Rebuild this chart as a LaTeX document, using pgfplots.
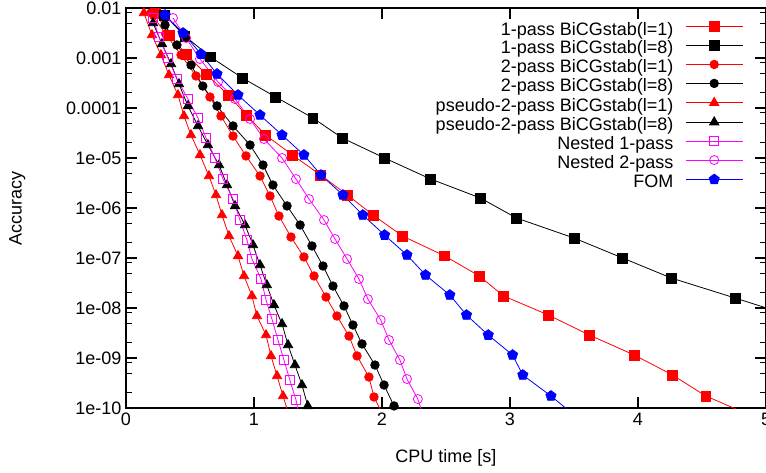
\documentclass[border=0pt]{standalone}
\usepackage{fontspec}
\setmainfont{Liberation Sans}
\usepackage{pgfplots}
\pgfplotsset{compat=1.18}
\usetikzlibrary{plotmarks}
\definecolor{gred}{RGB}{255,0,0}
\definecolor{gmag}{RGB}{255,0,255}
\definecolor{gblue}{RGB}{0,0,255}
\begin{document}
\begin{tikzpicture}
\begin{axis}[
    name=ax,
    scale only axis,
    width=480pt, height=300pt,
    xmin=0, xmax=5,
    ymode=log, ymin=1e-10, ymax=1e-2,
    xtick={0,1,2,3,4,5},
    ytick={1e-10,1e-9,1e-8,1e-7,1e-6,1e-5,1e-4,1e-3,1e-2},
    yticklabels={1e-10,1e-09,1e-08,1e-07,1e-06,1e-05,0.0001,0.001,0.01},
    minor ytick={2e-10,5e-10,8e-10,2e-9,5e-9,8e-9,2e-8,5e-8,8e-8,2e-7,5e-7,8e-7,
                 2e-6,5e-6,8e-6,2e-5,5e-5,8e-5,2e-4,5e-4,8e-4,2e-3,5e-3,8e-3},
    minor xtick={},
    tick align=inside,
    major tick length=8pt,
    minor tick length=4.5pt,
    every tick/.style={black, line width=0.8pt},
    axis line style={line width=1.3pt},
    font=\fontsize{13.5}{15}\selectfont,
    /pgf/number format/assume math mode=true,
    xlabel={CPU time [s]},
    ylabel={Accuracy},
    xlabel style={at={(axis description cs:0.5,-0.125)}, anchor=center},
    ylabel style={at={(axis description cs:-0.17,0.5)}, anchor=center, rotate=0},
    legend cell align=right,
    legend plot pos=right,
    legend style={at={(1,1)}, anchor=north east, xshift=-17pt, yshift=-10pt,
      draw=none, fill=none, inner sep=0pt, row sep=1.2pt, column sep=9pt,
      nodes={inner sep=0pt, text height=10pt, text depth=3pt},
      font=\fontsize{13.5}{15}\selectfont},
    legend image code/.code={
      \draw[mark repeat=2,mark phase=2,#1] plot coordinates {(0cm,0.1cm) (0.75cm,0.1cm) (1.5cm,0.1cm)};},
    every axis plot/.append style={line width=0.6pt},
    ]
\addplot[gred, mark=square*, mark size=3.7pt] coordinates {
(0.23,7.94e-3) (0.34,2.88e-3) (0.47,1.20e-3) (0.625,4.79e-4) (0.80,1.82e-4)
(0.94,7.24e-5) (1.09,2.88e-5) (1.30,1.15e-5) (1.52,4.57e-6) (1.73,1.82e-6)
(1.93,7.24e-7) (2.16,2.75e-7) (2.49,1.10e-7) (2.76,4.37e-8) (2.95,1.74e-8)
(3.30,7.24e-9) (3.62,2.88e-9) (3.97,1.15e-9) (4.27,4.57e-10) (4.53,1.74e-10)
(4.89,6.92e-11)};
\addlegendentry{1-pass BiCGstab(l=1)}
\addplot[black, mark=square*, mark size=3.7pt] coordinates {
(0.30,7.24e-3) (0.46,2.75e-3) (0.66,1.05e-3) (0.91,3.98e-4) (1.17,1.66e-4)
(1.46,6.31e-5) (1.69,2.51e-5) (2.02,1.00e-5) (2.38,3.80e-6) (2.77,1.58e-6)
(3.05,6.31e-7) (3.50,2.51e-7) (3.88,1.00e-7) (4.26,3.98e-8) (4.76,1.58e-8)
(5.25,6.31e-9)};
\addlegendentry{1-pass BiCGstab(l=8)}
\addplot[gred, mark=*, mark size=3.2pt] coordinates {
(0.195,7.94e-3) (0.31,3.02e-3) (0.43,1.15e-3) (0.547,4.37e-4) (0.656,1.66e-4)
(0.742,6.92e-5) (0.836,2.75e-5) (0.9375,1.10e-5) (1.047,4.37e-6) (1.125,1.74e-6)
(1.195,6.92e-7) (1.289,2.63e-7) (1.39,1.05e-7) (1.469,4.37e-8) (1.5625,1.66e-8)
(1.648,6.92e-9) (1.742,2.75e-9) (1.805,1.10e-9) (1.898,4.17e-10) (1.9375,1.66e-10)
(2.016,6.61e-11)};
\addlegendentry{2-pass BiCGstab(l=1)}
\addplot[black, mark=*, mark size=3.2pt] coordinates {
(0.22,1.15e-2) (0.305,4.57e-3) (0.398,1.82e-3) (0.508,7.24e-4) (0.60,2.75e-4)
(0.711,1.10e-4) (0.836,4.37e-5) (0.969,1.82e-5) (1.07,7.24e-6) (1.148,2.88e-6)
(1.258,1.10e-6) (1.36,4.57e-7) (1.453,1.74e-7) (1.539,6.92e-8) (1.617,2.75e-8)
(1.703,1.10e-8) (1.773,4.57e-9) (1.844,1.91e-9) (1.945,7.24e-10) (2.016,2.88e-10)
(2.094,1.10e-10)};
\addlegendentry{2-pass BiCGstab(l=8)}
\addplot[gred, mark=triangle*, mark size=4pt] coordinates {
(0.14,7.94e-3) (0.203,2.88e-3) (0.273,1.15e-3) (0.336,4.57e-4) (0.406,1.82e-4)
(0.453,6.92e-5) (0.508,2.88e-5) (0.578,1.15e-5) (0.648,4.37e-6) (0.703,1.82e-6)
(0.75,7.24e-7) (0.805,2.75e-7) (0.875,1.10e-7) (0.922,4.37e-8) (0.984,1.74e-8)
(1.023,6.92e-9) (1.094,2.88e-9) (1.133,1.10e-9) (1.18,4.37e-10) (1.227,1.74e-10)
(1.275,6.92e-11)};
\addlegendentry{pseudo-2-pass BiCGstab(l=1)}
\addplot[black, mark=triangle*, mark size=4pt] coordinates {
(0.211,5.01e-3) (0.281,1.91e-3) (0.352,7.59e-4) (0.414,3.02e-4) (0.484,1.10e-4)
(0.5625,4.37e-5) (0.64,1.82e-5) (0.727,7.24e-6) (0.789,2.88e-6) (0.852,1.10e-6)
(0.93,4.57e-7) (0.992,1.82e-7) (1.047,7.24e-8) (1.10,2.88e-8) (1.156,1.15e-8)
(1.219,4.79e-9) (1.266,1.82e-9) (1.32,7.24e-10) (1.375,2.88e-10) (1.42,1.10e-10)};
\addlegendentry{pseudo-2-pass BiCGstab(l=8)}
\addplot[gmag, mark=square, mark size=3.5pt] coordinates {
(0.211,6.31e-3) (0.258,2.63e-3) (0.328,1.00e-3) (0.398,3.80e-4) (0.484,1.51e-4)
(0.5625,6.31e-5) (0.625,2.51e-5) (0.695,1.00e-5) (0.758,3.80e-6) (0.836,1.51e-6)
(0.89,5.75e-7) (0.945,2.29e-7) (0.984,9.55e-8) (1.055,3.80e-8) (1.094,1.45e-8)
(1.14,6.03e-9) (1.1875,2.29e-9) (1.234,9.12e-10) (1.28,3.63e-10) (1.328,1.45e-10)
(1.36,5.75e-11)};
\addlegendentry{Nested 1-pass}
\addplot[gmag, mark=o, mark size=3.4pt] coordinates {
(0.367,6.31e-3) (0.47,2.51e-3) (0.578,9.55e-4) (0.719,3.31e-4) (0.852,1.51e-4)
(0.969,6.03e-5) (1.078,2.40e-5) (1.219,1.00e-5) (1.328,3.80e-6) (1.43,1.51e-6)
(1.547,5.75e-7) (1.633,2.40e-7) (1.727,9.55e-8) (1.82,3.80e-8) (1.89,1.51e-8)
(1.99,5.75e-9) (2.055,2.29e-9) (2.14,9.12e-10) (2.195,3.80e-10) (2.28,1.51e-10)
(2.33,6.03e-11)};
\addlegendentry{Nested 2-pass}
\addplot[gblue, mark=pentagon*, mark size=4pt] coordinates {
(0.305,7.24e-3) (0.445,3.16e-3) (0.586,1.20e-3) (0.711,4.79e-4) (0.875,1.82e-4)
(1.047,7.24e-5) (1.219,2.88e-5) (1.39,1.15e-5) (1.523,4.57e-6) (1.695,1.82e-6)
(1.85,7.24e-7) (2.02,2.88e-7) (2.195,1.15e-7) (2.34,4.57e-8) (2.53,1.82e-8)
(2.66,7.24e-9) (2.83,2.88e-9) (3.02,1.15e-9) (3.10,4.57e-10) (3.32,1.74e-10)
(3.51,6.92e-11)};
\addlegendentry{FOM}
\end{axis}
\pgfresetboundingbox
\path[use as bounding box] ([xshift=-94.5pt,yshift=-48pt]ax.south west) rectangle ([yshift=6pt]ax.north east);
\end{tikzpicture}
\end{document}
